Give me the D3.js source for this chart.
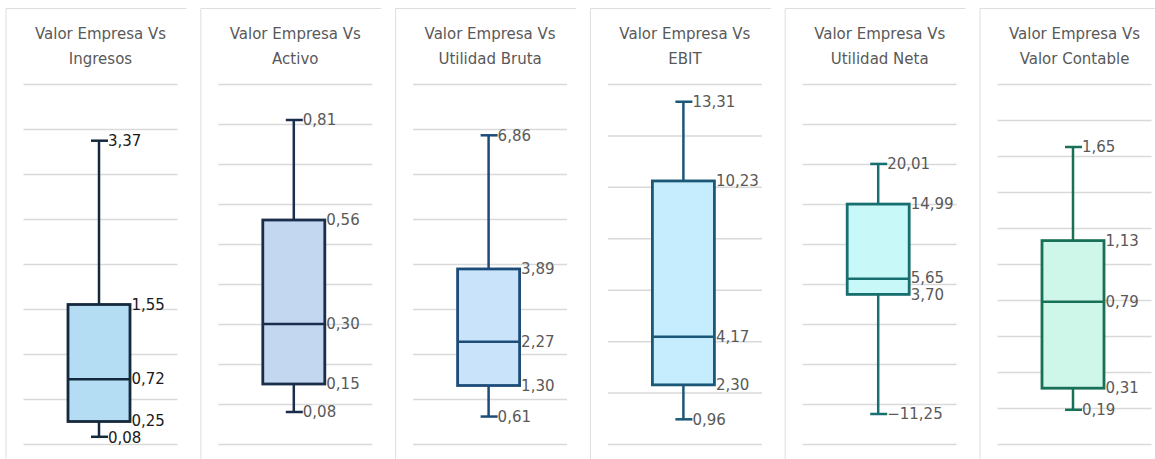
<!DOCTYPE html>
<html>
<head>
<meta charset="utf-8">
<script src="https://cdn.jsdelivr.net/npm/d3@7"></script>
<style>
  html, body { margin: 0; padding: 0; background: #fff; }
  svg { display: block; }
</style>
</head>
<body>
<svg id="chart" width="1155" height="459"></svg>
<script>
// ---- data ----
const titleLine1 = ["Valor Empresa Vs", "Valor Empresa Vs", "Valor Empresa Vs", "Valor Empresa Vs", "Valor Empresa Vs", "Valor Empresa Vs"];
const titleLine2 = ["Ingresos", "Activo", "Utilidad Bruta", "EBIT", "Utilidad Neta", "Valor Contable"];
const minValues    = [0.08, 0.08, 0.61, 0.96, -11.25, 0.19];
const q1Values     = [0.25, 0.15, 1.30, 2.30, 3.70, 0.31];
const medianValues = [0.72, 0.30, 2.27, 4.17, 5.65, 0.79];
const q3Values     = [1.55, 0.56, 3.89, 10.23, 14.99, 1.13];
const maxValues    = [3.37, 0.81, 6.86, 13.31, 20.01, 1.65];
const axisMin  = [0, 0, 0, 0, -15, 0];
const axisMax  = [4, 0.9, 8, 14, 30, 2];
const tickStep = [0.5, 0.1, 1, 2, 5, 0.2];

// ---- styles ----
const strokeColors = ["#14293c", "#1a2e4c", "#1d4c78", "#1b5877", "#17706f", "#187156"];
const fillColors   = ["#b4ddf3", "#c3d7f1", "#c9e3fb", "#c6edfd", "#c9f8f8", "#cff7e9"];
const labelColors  = ["#1a1a1a", "#595959", "#595959", "#595959", "#595959", "#595959"];

const svg = d3.select("#chart");
const panelStep = 194.8, panelLeft0 = 5.5, panelWidth = 181;
const plotTop = 84, plotBottom = 444;
const fmt = v => d3.format(".2f")(v).replace(".", ",");

titleLine1.forEach((t, i) => {
  const x0 = panelLeft0 + i * panelStep;
  const g = svg.append("g").attr("transform", `translate(${x0},0)`);

  // panel border (top + left)
  g.append("path")
    .attr("d", `M0.5,459 L0.5,8.5 L${panelWidth},8.5`)
    .attr("fill", "none").attr("stroke", "#dedede").attr("stroke-width", 1);

  // title
  const title = g.append("text")
    .attr("x", 95).attr("text-anchor", "middle")
    .attr("font-family", "DejaVu Sans, sans-serif").attr("font-size", 15)
    .attr("fill", "#595959");
  title.append("tspan").attr("x", 95).attr("y", 39).text(t);
  title.append("tspan").attr("x", 95).attr("y", 64).text(titleLine2[i]);

  const y = d3.scaleLinear().domain([axisMin[i], axisMax[i]]).range([plotBottom, plotTop]);
  const nTicks = Math.round((axisMax[i] - axisMin[i]) / tickStep[i]);
  const ticks = d3.range(nTicks + 1).map(k => axisMin[i] + k * tickStep[i]);
  const x = d3.scaleBand().domain([titleLine2[i]]).range([18, 172]).padding(0.3);

  const axis = d3.axisLeft(y).tickValues(ticks).tickSize(-(172 - 18)).tickFormat("");
  const ag = g.append("g").attr("transform", "translate(18,0)").call(axis);
  ag.select(".domain").remove();
  ag.selectAll(".tick line").attr("stroke", "#d9d9d9").attr("stroke-width", 1.5);

  const cx = x(titleLine2[i]) + x.bandwidth() / 2 - 1.5;
  const bw = 62;
  const sc = strokeColors[i];

  // whiskers
  g.append("line").attr("x1", cx).attr("x2", cx)
    .attr("y1", y(maxValues[i])).attr("y2", y(q3Values[i]))
    .attr("stroke", sc).attr("stroke-width", 2.5);
  g.append("line").attr("x1", cx).attr("x2", cx)
    .attr("y1", y(q1Values[i])).attr("y2", y(minValues[i]))
    .attr("stroke", sc).attr("stroke-width", 2.5);
  [maxValues[i], minValues[i]].forEach(v => {
    g.append("line").attr("x1", cx - 8).attr("x2", cx + 9)
      .attr("y1", y(v)).attr("y2", y(v))
      .attr("stroke", sc).attr("stroke-width", 2.5);
  });

  // box
  g.append("rect")
    .attr("x", cx - bw / 2).attr("width", bw)
    .attr("y", y(q3Values[i])).attr("height", y(q1Values[i]) - y(q3Values[i]))
    .attr("fill", fillColors[i]).attr("stroke", sc).attr("stroke-width", 2.8);
  g.append("line").attr("x1", cx - bw / 2).attr("x2", cx + bw / 2)
    .attr("y1", y(medianValues[i])).attr("y2", y(medianValues[i]))
    .attr("stroke", sc).attr("stroke-width", 2.5);

  // labels with light collision avoidance
  const labels = [
    { v: maxValues[i], x: cx + 9 },
    { v: q3Values[i], x: cx + bw / 2 + 1.5 },
    { v: medianValues[i], x: cx + bw / 2 + 1.5 },
    { v: q1Values[i], x: cx + bw / 2 + 1.5 },
    { v: minValues[i], x: cx + 9 }
  ].map(d => ({ ...d, y: y(d.v) }));
  const minGap = 17;
  for (let iter = 0; iter < 10; iter++) {
    for (let a = 0; a < labels.length - 1; a++) {
      const A = labels[a], B = labels[a + 1];
      const gap = B.y - A.y;
      if (gap < minGap) {
        const shift = (minGap - gap) / 2;
        A.y -= shift; B.y += shift;
      }
    }
  }
  labels.forEach(d => {
    g.append("text")
      .attr("x", d.x).attr("y", d.y).attr("dy", "0.35em")
      .attr("font-family", "DejaVu Sans, sans-serif").attr("font-size", 15)
      .attr("fill", labelColors[i]).text(fmt(d.v));
  });
});
</script>
</body>
</html>
